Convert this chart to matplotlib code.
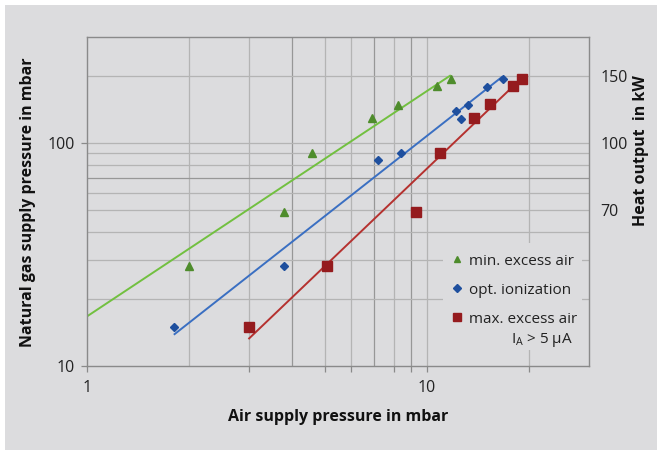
import matplotlib
matplotlib.use("Agg")
import matplotlib.pyplot as plt
from matplotlib.patches import Rectangle
from matplotlib.ticker import FixedLocator, NullFormatter, FixedFormatter

# ---- data ----
min_x = [2.0, 3.8, 4.6, 6.9, 8.2, 10.7, 11.8]
min_y = [28, 49, 90, 130, 148, 180, 195]
opt_x = [1.8, 3.8, 7.2, 8.4, 12.2, 12.6, 13.2, 15.0, 16.7]
opt_y = [15, 28, 84, 90, 139, 129, 149, 179, 195]
max_x = [3.0, 5.1, 9.3, 10.9, 13.8, 15.3, 17.9, 19.0]
max_y = [15, 28, 49, 90, 130, 150, 180, 195]

# trend lines (end points)
min_trend_x = [1.0, 11.7]
min_trend_y = [16.7, 201]
opt_trend_x = [1.81, 16.6]
opt_trend_y = [13.9, 198]
max_trend_x = [3.0, 18.8]
max_trend_y = [13.3, 193]

labels = ["min. excess air", "opt. ionization", "max. excess air"]
heat_pos = [200, 100, 50]
heat_labels = ["150", "100", "70"]

BG = "#dcdcde"
FONT = "Open Sans"

fig = plt.figure(figsize=(6.6, 4.5), dpi=100, facecolor="white")
fig.patches.append(Rectangle((5/660, 0), 652/660, 445/450, transform=fig.transFigure,
                             facecolor=BG, edgecolor="none", zorder=-10))

ax = fig.add_axes([87/660, 1-366/450, (589-87)/660, (366-37)/450])
ax.set_facecolor(BG)
ax.set_xscale("log")
ax.set_yscale("log")
ax.set_xlim(1, 30)
ax.set_ylim(10, 300)
ax.set_axisbelow(True)

gridc = "#b4b4b4"
darkc = "#979797"
for xv in [2, 3, 4, 5, 6, 7, 8, 9, 10, 20]:
    ax.axvline(xv, color=darkc if xv in (4, 7, 9) else gridc, lw=0.9, zorder=0.5)
for yv in [20, 30, 40, 50, 60, 70, 80, 90, 100, 200]:
    ax.axhline(yv, color=darkc if yv == 70 else gridc, lw=0.9, zorder=0.5)

for s in ax.spines.values():
    s.set_color("#8a8a8a")
    s.set_linewidth(1.0)

ax.xaxis.set_major_locator(FixedLocator([1, 10]))
ax.xaxis.set_major_formatter(FixedFormatter(["1", "10"]))
ax.xaxis.set_minor_locator(FixedLocator([3, 5, 6, 8, 9, 20]))
ax.xaxis.set_minor_formatter(NullFormatter())
ax.yaxis.set_major_locator(FixedLocator([10, 100]))
ax.yaxis.set_major_formatter(FixedFormatter(["10", "100"]))
ax.yaxis.set_minor_locator(FixedLocator([]))
ax.tick_params(which="both", colors="#8a8a8a", labelcolor="#222222", labelsize=11.5,
               direction="out", length=4, width=0.9)
ax.tick_params(axis="x", which="major", pad=6)
ax.tick_params(axis="y", which="major", pad=5)
for t in ax.get_xticklabels() + ax.get_yticklabels():
    t.set_fontfamily(FONT)

# legend background box
ax.add_patch(Rectangle((443/660, 1-350/450), (582-443)/660, (350-243)/450,
                       transform=fig.transFigure, facecolor=BG, edgecolor="none", zorder=1.5))

green_m, green_l = "#4e8c2c", "#72c040"
blue_m, blue_l = "#1e4f9e", "#3a6fc2"
red_m, red_l = "#951b1e", "#b5312f"

ax.plot(min_trend_x, min_trend_y, color=green_l, lw=1.4, zorder=2)
ax.plot(opt_trend_x, opt_trend_y, color=blue_l, lw=1.4, zorder=2)
ax.plot(max_trend_x, max_trend_y, color=red_l, lw=1.4, zorder=2)

h1, = ax.plot(min_x, min_y, ls="none", marker="^", ms=6, color=green_m, zorder=3, label=labels[0])
h2, = ax.plot(opt_x, opt_y, ls="none", marker="D", ms=4.5, color=blue_m, zorder=3, label=labels[1])
h3, = ax.plot(max_x, max_y, ls="none", marker="s", ms=6.5, color=red_m, zorder=3, label=labels[2])

leg = ax.legend(handles=[h1, h2, h3], loc="upper left",
                bbox_to_anchor=(445/660, 1-246/450), bbox_transform=fig.transFigure,
                frameon=False, prop={"family": FONT, "size": 11}, handlelength=0.6,
                handletextpad=0.5, labelspacing=0.92, borderpad=0, markerscale=0.8)
for t in leg.get_texts():
    t.set_color("#222222")
leg.set_zorder(4)
fig.text(573/660, 1-340/450, r"I$_\mathregular{A}$ > 5 µA", ha="right", va="center",
         fontsize=11, family=FONT, color="#222222")

# right axis
ax2 = ax.twinx()
ax2.set_yscale("log")
ax2.set_ylim(10, 300)
ax2.yaxis.set_major_locator(FixedLocator(heat_pos))
ax2.yaxis.set_major_formatter(FixedFormatter(heat_labels))
ax2.yaxis.set_minor_locator(FixedLocator([]))
ax2.tick_params(axis="y", length=0, pad=8, labelsize=11.5, labelcolor="#222222")
for t in ax2.get_yticklabels():
    t.set_fontfamily(FONT)
for s in ax2.spines.values():
    s.set_visible(False)

fig.text(28/660, 1-202/450, "Natural gas supply pressure in mbar", rotation=90,
         ha="center", va="center", fontsize=11.5, fontweight="bold", family=FONT, color="#111111")
fig.text(338/660, 1-417/450, "Air supply pressure in mbar",
         ha="center", va="center", fontsize=11.5, fontweight="bold", family=FONT, color="#111111")
fig.text(641/660, 1-151/450, "Heat output  in kW", rotation=90,
         ha="center", va="center", fontsize=11.5, fontweight="bold", family=FONT, color="#111111")

fig.savefig("out.png", dpi=100, facecolor="white")
